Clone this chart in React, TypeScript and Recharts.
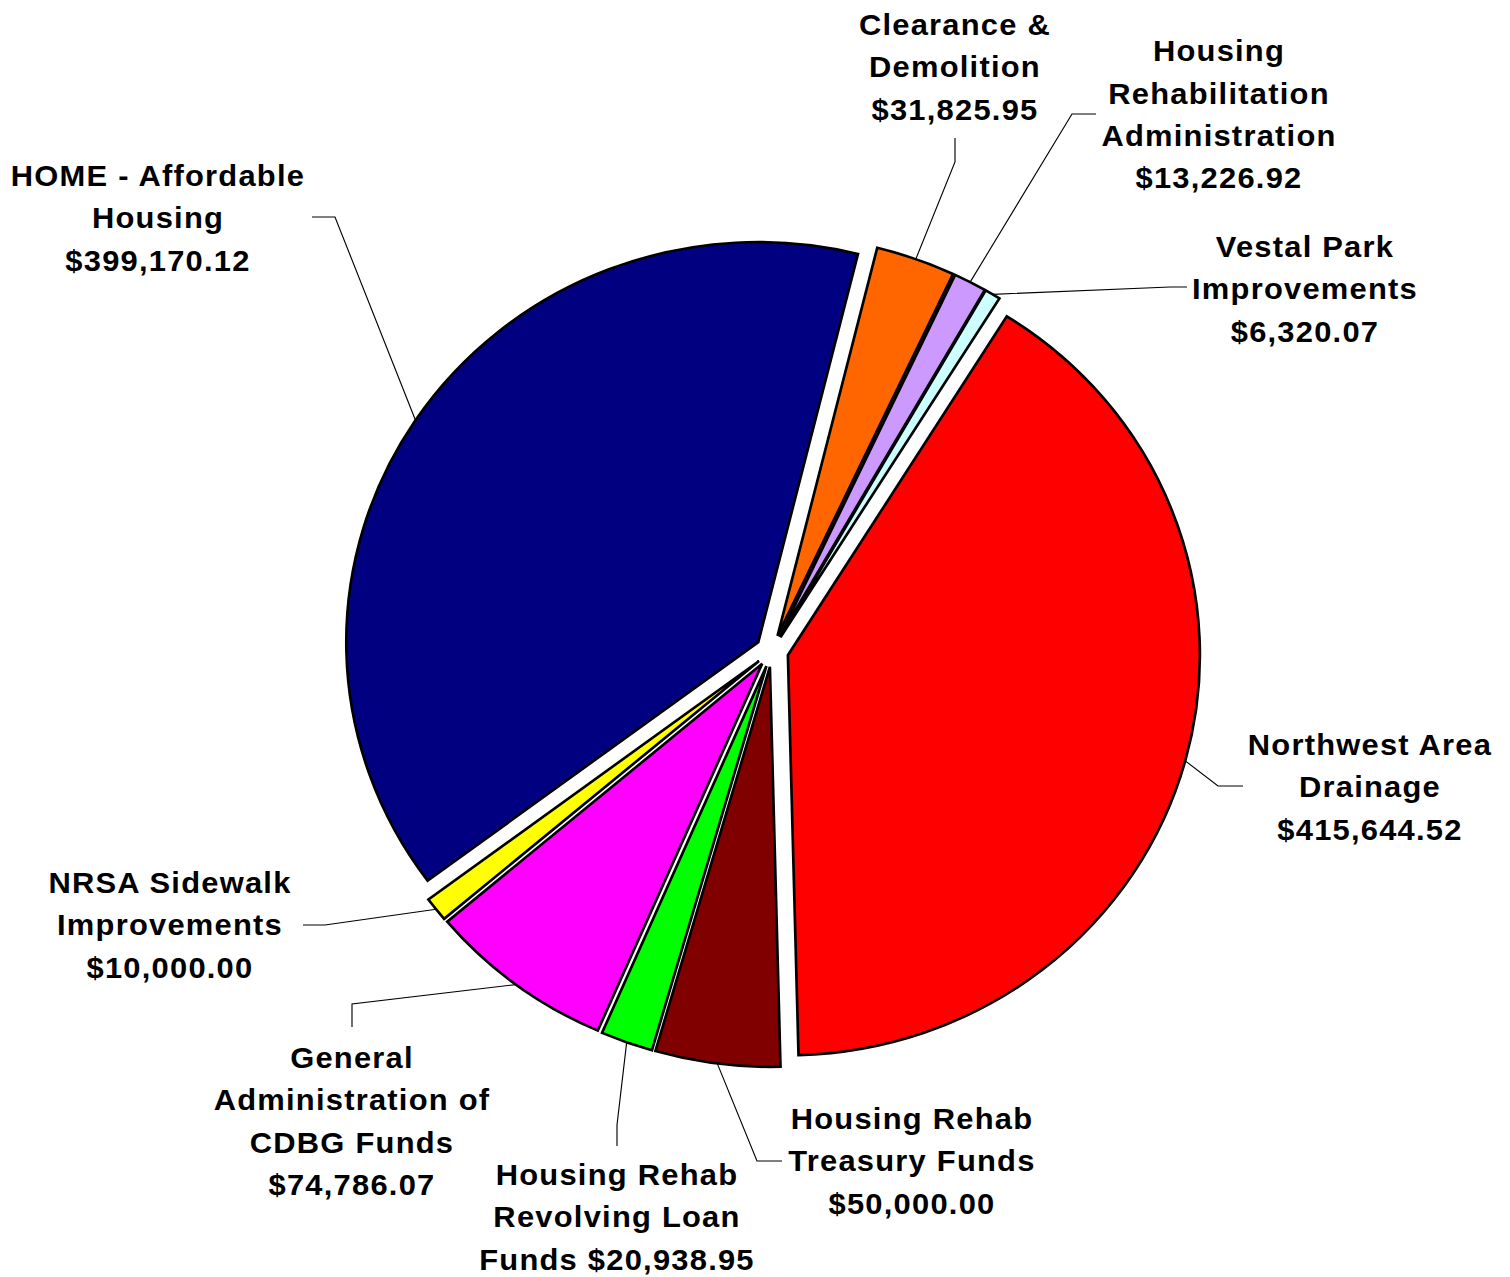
import React from 'react';
import { PieChart, Pie, Cell, Sector } from 'recharts';

// ---- data ----
const categories = [
  'Northwest Area Drainage',
  'Housing Rehab Treasury Funds',
  'Housing Rehab Revolving Loan Funds',
  'General Administration of CDBG Funds',
  'NRSA Sidewalk Improvements',
  'HOME - Affordable Housing',
  'Clearance & Demolition',
  'Housing Rehabilitation Administration',
  'Vestal Park Improvements',
];
const amounts = [415644.52, 50000.0, 20938.95, 74786.07, 10000.0, 399170.12, 31825.95, 13226.92, 6320.07];
const labelNameLines = [
  ['Northwest Area', 'Drainage'],
  ['Housing Rehab', 'Treasury Funds'],
  ['Housing Rehab', 'Revolving Loan', 'Funds'],
  ['General', 'Administration of', 'CDBG Funds'],
  ['NRSA Sidewalk', 'Improvements'],
  ['HOME - Affordable', 'Housing'],
  ['Clearance &', 'Demolition'],
  ['Housing', 'Rehabilitation', 'Administration'],
  ['Vestal Park', 'Improvements'],
];
const amountInline = [false, false, true, false, false, false, false, false, false];
const colors = ['#FF0000', '#800000', '#00FF00', '#FF00FF', '#FFFF00', '#000080', '#FF6600', '#CC99FF', '#CCFFFF'];

const chartData = categories.map((name, i) => ({ name, value: amounts[i] }));

// ---- layout ----
const SX = 1.03; // horizontal stretch of the original picture
const W = 1510;
const H = 1277;
const CX = 772;
const CY = 651;
const RADIUS = 400;
const EXPLODE = 16;
const START = 57.9;
const FONT = 30;
const LINE_H = 42.5;

// label placement in picture pixels
const labelLayout = [
  { x: 1370, y: 744, elbow: [1218, 786], end: [1243, 786] },
  { x: 912, y: 1118, elbow: [757, 1161], end: [782, 1161] },
  { x: 617, y: 1174, elbow: [617, 1125], end: [617, 1146] },
  { x: 352, y: 1057, elbow: [352, 1004], end: [352, 1027] },
  { x: 170, y: 882, elbow: [325, 925], end: [303, 925] },
  { x: 158, y: 175, elbow: [335, 217], end: [312, 217] },
  { x: 955, y: 24, elbow: [955, 162], end: [955, 138] },
  { x: 1219, y: 50, elbow: [1072, 114], end: [1096, 114] },
  { x: 1305, y: 246, elbow: [1170, 287], end: [1187, 287] },
];

const fmt = (v: number) =>
  '$' + v.toLocaleString('en-US', { minimumFractionDigits: 2, maximumFractionDigits: 2 });

const labelText = (i: number): string[] => {
  const lines = [...labelNameLines[i]];
  const amt = fmt(amounts[i]);
  if (amountInline[i]) lines[lines.length - 1] = lines[lines.length - 1] + ' ' + amt;
  else lines.push(amt);
  return lines;
};

const renderSlice = (props: any) => {
  const { cx, cy, startAngle, endAngle, midAngle, outerRadius, index } = props;
  const rad = (-midAngle * Math.PI) / 180;
  const ox = cx + EXPLODE * Math.cos(rad);
  const oy = cy + EXPLODE * Math.sin(rad);
  const ax = ox + outerRadius * Math.cos(rad);
  const ay = oy + outerRadius * Math.sin(rad);
  const lay = labelLayout[index];
  const pts = `${ax},${ay} ${lay.elbow[0] / SX},${lay.elbow[1]} ${lay.end[0] / SX},${lay.end[1]}`;
  const lines = labelText(index);
  return (
    <g key={`slice-${index}`}>
      <Sector
        cx={ox}
        cy={oy}
        innerRadius={0}
        outerRadius={outerRadius}
        startAngle={startAngle}
        endAngle={endAngle}
        fill={colors[index]}
        stroke="#000000"
        strokeWidth={2.6}
        strokeLinejoin="miter"
      />
      <polyline points={pts} fill="none" stroke="#000000" strokeWidth={1.1} />
      <text
        x={lay.x / SX}
        y={lay.y}
        textAnchor="middle"
        fontFamily="'Liberation Sans', Arial, sans-serif"
        fontWeight="bold"
        fontSize={FONT}
        letterSpacing={1.2}
        fill="#000000"
      >
        {lines.map((ln, k) => (
          <tspan key={k} x={lay.x / SX} y={lay.y + 11 + k * LINE_H}>
            {ln}
          </tspan>
        ))}
      </text>
    </g>
  );
};

export default function App() {
  return (
    <div style={{ position: 'absolute', left: 0, top: 0, width: W, height: H, overflow: 'hidden', background: '#fff' }}>
      <div style={{ transform: `scaleX(${SX})`, transformOrigin: '0 0', width: W / SX, height: H }}>
        <PieChart width={W / SX} height={H} margin={{ top: 0, right: 0, bottom: 0, left: 0 }}>
          <Pie
            data={chartData}
            dataKey="value"
            nameKey="name"
            cx={CX / SX}
            cy={CY}
            innerRadius={0}
            outerRadius={RADIUS}
            startAngle={START}
            endAngle={START - 360}
            isAnimationActive={false}
            fill="none"
            stroke="none"
            labelLine={false}
            label={renderSlice}
          >
            {chartData.map((d) => (
              <Cell key={d.name} fill="none" stroke="none" />
            ))}
          </Pie>
        </PieChart>
      </div>
    </div>
  );
}
